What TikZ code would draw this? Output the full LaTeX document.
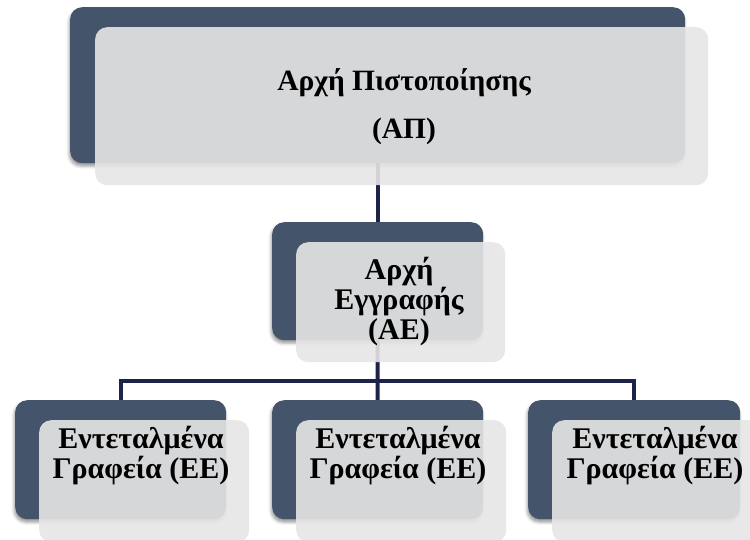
\documentclass[tikz,border=0pt]{standalone}
\usepackage{fontspec}
\setmainfont{Liberation Serif}
\usetikzlibrary{backgrounds,shadows.blur}

\definecolor{slate}{RGB}{68,84,106}
\definecolor{paper}{RGB}{230,230,230}
\definecolor{navy}{RGB}{30,36,72}

\tikzset{
  back/.style={draw=none, fill=slate, rounded corners=12pt, anchor=north west,
    blur shadow={shadow xshift=-1pt, shadow yshift=-3pt, shadow blur radius=3pt, shadow opacity=40}},
  front/.style={draw=none, fill=paper, fill opacity=0.9, rounded corners=12pt, anchor=north west},
  label/.style={font=\bfseries\fontsize{30}{30}\selectfont, align=center, text=black},
  biglabel/.style={label, font=\bfseries\fontsize{29.5}{30}\selectfont},
  link/.style={draw=navy, line width=4pt}
}

\begin{document}
\begin{tikzpicture}[x=1pt, y=-1pt]
  \useasboundingbox (0,0) rectangle (750,539);

  % Certification authority
  \node[back,  minimum width=615pt, minimum height=156pt] (topd) at (70,7) {};
  \node[front, minimum width=613pt, minimum height=158pt] (topl) at (95,27) {};
  \node[biglabel] (toptxt) at (404,107) {Αρχή Πιστοποίησης\\[18pt](ΑΠ)};

  % Registration authority
  \node[back,  minimum width=211pt, minimum height=118pt] (midd) at (272,222) {};
  \node[front, minimum width=209pt, minimum height=120pt] (midl) at (296,242) {};
  \node[label] (midtxt) at (399,302) {Αρχή\\Εγγραφής\\(ΑΕ)};

  % Local registration offices
  \node[back,  minimum width=211pt, minimum height=119pt] (b1d) at (15,400) {};
  \node[front, minimum width=210pt, minimum height=122pt] (b1l) at (39,420) {};
  \node[label] (b1txt) at (141,456) {Εντεταλμένα\\Γραφεία (ΕΕ)};

  \node[back,  minimum width=211pt, minimum height=119pt] (b2d) at (272,400) {};
  \node[front, minimum width=210pt, minimum height=122pt] (b2l) at (296,420) {};
  \node[label] (b2txt) at (398,456) {Εντεταλμένα\\Γραφεία (ΕΕ)};

  \node[back,  minimum width=212pt, minimum height=119pt] (b3d) at (528,400) {};
  \node[front, minimum width=210pt, minimum height=122pt] (b3l) at (552,420) {};
  \node[label] (b3txt) at (655,456) {Εντεταλμένα\\Γραφεία (ΕΕ)};

  % Tree connectors, kept behind the boxes
  \coordinate (bar) at (377.5,381);
  \begin{scope}[on background layer]
    \draw[link] (topd.center) -- (midd.center);
    \draw[link] (midd.center) -- (bar);
    \draw[link] (b1d.center) |- (bar) -| (b3d.center);
    \draw[link] (bar) -- (b2d.center);
  \end{scope}
\end{tikzpicture}
\end{document}
